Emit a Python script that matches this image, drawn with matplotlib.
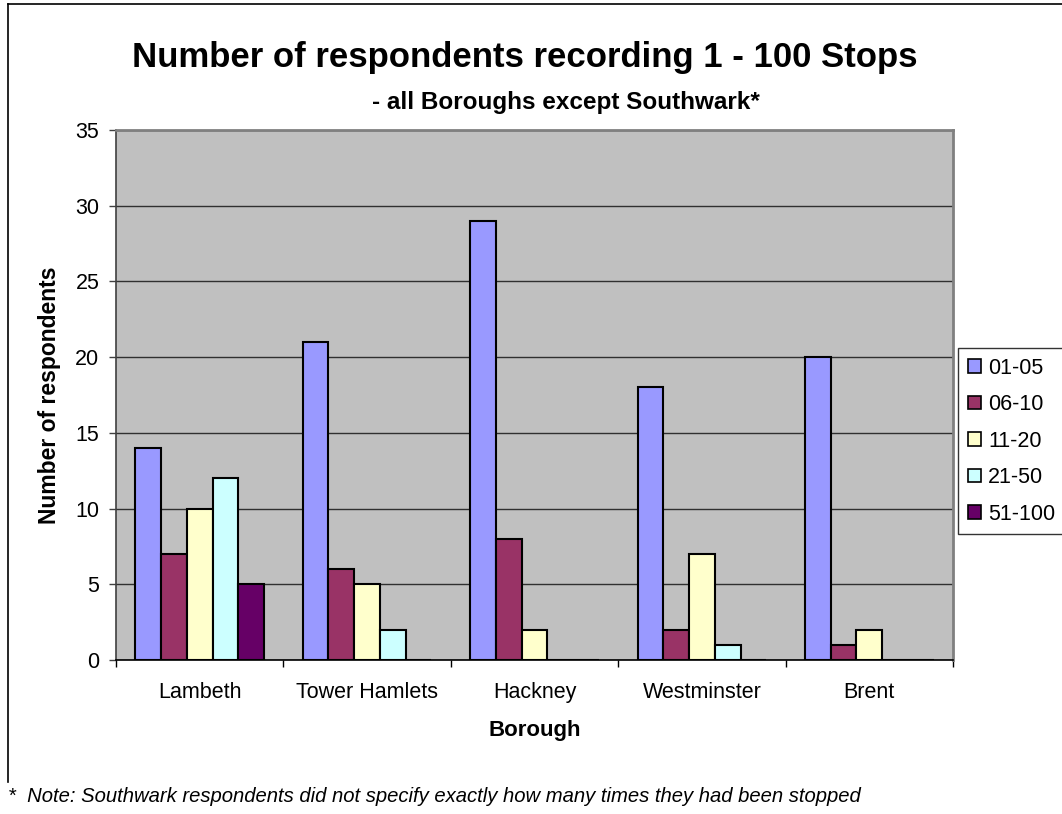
import numpy as np
import matplotlib.pyplot as plt
from matplotlib.patches import Patch
from matplotlib.lines import Line2D

plt.rcParams['font.family'] = ['Liberation Sans', 'DejaVu Sans']

boroughs = ['Lambeth', 'Tower Hamlets', 'Hackney', 'Westminster', 'Brent']
bands = ['01-05', '06-10', '11-20', '21-50', '51-100']
s0105 = [14, 21, 29, 18, 20]
s0610 = [7, 6, 8, 2, 1]
s1120 = [10, 5, 2, 7, 2]
s2150 = [12, 2, 0, 1, 0]
s51100 = [5, 0, 0, 0, 0]
series = [s0105, s0610, s1120, s2150, s51100]
colours = ['#9999FF', '#993366', '#FFFFCC', '#CCFFFF', '#660066']

W, H = 1062, 814
fig = plt.figure(figsize=(W / 100, H / 100), dpi=100)

# chart border (Excel chart area)
fig.add_artist(Line2D([8 / W, 8 / W], [1 - 4 / H, 1 - 782 / H], color='black', lw=1.2))
fig.add_artist(Line2D([8 / W, 1], [1 - 4 / H, 1 - 4 / H], color='black', lw=1.2))

ax = fig.add_axes([116 / W, 1 - 660 / H, (953 - 116) / W, (660 - 130) / H])
ax.set_facecolor('#C0C0C0')

x = np.arange(len(boroughs))
bw = 1 / 6.5
for i, (vals, col) in enumerate(zip(series, colours)):
    ax.bar(x + (i - 2) * bw, vals, bw, color=col, edgecolor='black', linewidth=1.5,
           label=bands[i], zorder=3)

ax.set_xlim(-0.5, len(boroughs) - 0.5)
ax.set_ylim(0, 35)
ax.set_yticks(range(0, 36, 5))
ax.yaxis.grid(True, color='#303030', linewidth=1.0, zorder=1)
ax.set_axisbelow(True)

ax.set_xticks(x)
ax.set_xticklabels(boroughs, fontsize=15.5)
ax.set_xticks(np.arange(-0.5, len(boroughs), 1), minor=True)
ax.tick_params(axis='x', which='major', length=0, pad=16)
ax.tick_params(axis='x', which='minor', length=5, width=1, color='black', direction='out')
ax.tick_params(axis='y', length=5, width=1, color='#404040', labelsize=15.5, pad=7)

for s in ['top', 'right']:
    ax.spines[s].set_color('#808080')
    ax.spines[s].set_linewidth(2)
ax.spines['left'].set_color('#404040')
ax.spines['bottom'].set_color('black')
ax.spines['left'].set_linewidth(1.2)
ax.spines['bottom'].set_linewidth(1.2)

ax.set_xlabel('Borough', fontsize=16, fontweight='bold', labelpad=12)
ax.set_ylabel('Number of respondents', fontsize=16.5, fontweight='bold', labelpad=10)

fig.text(525 / W, 1 - 57 / H, 'Number of respondents recording 1 - 100 Stops',
         ha='center', va='center', fontsize=25, fontweight='bold')
fig.text(566 / W, 1 - 102 / H, '- all Boroughs except Southwark*',
         ha='center', va='center', fontsize=17.5, fontweight='bold')

handles = [Patch(facecolor=c, edgecolor='black', linewidth=1.2) for c in colours]
leg = fig.legend(handles, bands, loc='upper left', bbox_to_anchor=(958 / W, 1 - 348 / H),
                 fontsize=15.5, frameon=True, fancybox=False, edgecolor='black',
                 handlelength=0.6, handleheight=0.6, handletextpad=0.35,
                 labelspacing=0.72, borderpad=0.45, borderaxespad=0)
leg.get_frame().set_linewidth(1.0)

fig.text(8 / W, 1 - 797 / H,
         '*  Note: Southwark respondents did not specify exactly how many times they had been stopped',
         ha='left', va='center', fontsize=14.6, style='italic')

fig.savefig('out.png', dpi=100)
